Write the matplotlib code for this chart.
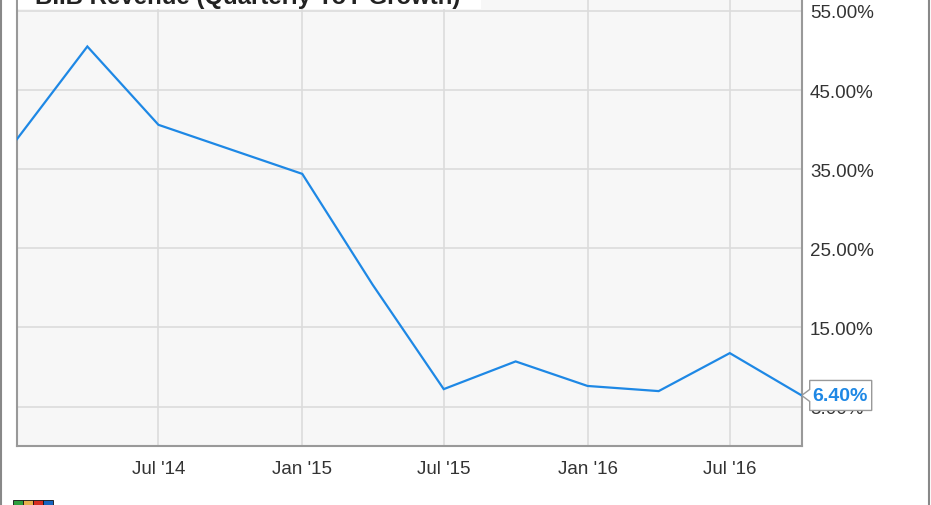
import matplotlib
matplotlib.use("Agg")
import matplotlib.pyplot as plt
import matplotlib.dates as mdates
from matplotlib.patches import Polygon, Rectangle
from matplotlib.lines import Line2D
import datetime as dt

plt.rcParams['font.family'] = ['Liberation Sans', 'DejaVu Sans']

# ---- data ----
dates = ["2014-01-01", "2014-04-01", "2014-07-01", "2014-10-01", "2015-01-01",
         "2015-04-01", "2015-07-01", "2015-10-01", "2016-01-01", "2016-04-01",
         "2016-07-01", "2016-10-01"]
growth = [38.8, 50.5, 40.6, 37.5, 34.4, 20.4, 7.2, 10.7, 7.6, 6.95, 11.75, 6.40]
yticks = [5, 15, 25, 35, 45, 55]
xtick_dates = ["2014-07-01", "2015-01-01", "2015-07-01", "2016-01-01", "2016-07-01"]
title = "BIIB Revenue (Quarterly YoY Growth)"
last_label = "6.40%"

W, H = 931, 506
fig = plt.figure(figsize=(W / 100, H / 100), dpi=100)
fig.patch.set_facecolor('white')

x0, x1 = 17, 801.7
ybot, ytop = 446.7, 0
ax = fig.add_axes([x0 / W, (H - ybot) / H, (x1 - x0) / W, (ybot - ytop) / H])
ax.set_facecolor('#f7f7f7')

xd = [dt.datetime.strptime(d, "%Y-%m-%d") for d in dates]
ax.plot(xd, growth, color='#1e88e5', lw=1.6, solid_joinstyle='miter', zorder=3)

ax.set_xlim(xd[0], xd[-1])
ax.set_ylim(0.05, 56.5)

xt = [dt.datetime.strptime(d, "%Y-%m-%d") for d in xtick_dates]
ax.set_xticks(xt)
ax.set_xticklabels([d.strftime("%b '%y") for d in xt])
ax.set_yticks(yticks)
ax.set_yticklabels([f"{v:.2f}%" for v in yticks])
ax.yaxis.tick_right()
ax.tick_params(axis='both', length=0, labelsize=13.5, colors='#333333')
ax.tick_params(axis='x', pad=10)
ax.tick_params(axis='y', pad=6)
for lab in ax.get_yticklabels():
    lab.set_horizontalalignment('left')

ax.grid(True, color='#dcdcdc', lw=1.2)
ax.set_axisbelow(True)
for s in ['left', 'bottom', 'right']:
    ax.spines[s].set_color('#999999')
    ax.spines[s].set_linewidth(1.5)
ax.spines['top'].set_visible(False)

# title box (cut off at the top)
fig.add_artist(Rectangle((x0 / W + 0.001, 1 - 10 / H), (480 - x0) / W, 10 / H,
                         transform=fig.transFigure, facecolor='white',
                         edgecolor='none', zorder=2))
fig.text(35 / W, 1 - 4.0 / H, title, fontsize=17.3, fontweight='bold',
         color='#222222', ha='left', va='baseline', zorder=3)

# value label for last point
fig.canvas.draw()
px, py = ax.transData.transform((mdates.date2num(xd[-1]), growth[-1]))
bx0, bx1 = px + 8, px + 70
bh = 30
poly = [(bx0, py + bh / 2), (bx1, py + bh / 2), (bx1, py - bh / 2), (bx0, py - bh / 2),
        (bx0, py - 6), (px, py), (bx0, py + 6)]
polyf = [(a / W, b / H) for a, b in poly]
fig.add_artist(Polygon(polyf, closed=True, transform=fig.transFigure,
                       facecolor='white', edgecolor='#999999', lw=1.0, zorder=5))
fig.text((bx0 + 3) / W, py / H, last_label, fontsize=14, fontweight='bold',
         color='#1e88e5', ha='left', va='center', zorder=6)

# outer frame lines
fig.add_artist(Line2D([1 / W, 1 / W], [0, 1], transform=fig.transFigure,
                      color='#888888', lw=1.5))
fig.add_artist(Line2D([929 / W, 929 / W], [0, 1], transform=fig.transFigure,
                      color='#888888', lw=1.5))

# small logo at bottom-left (cut off)
lx = 13
for i, c in enumerate(['#2e9e3e', '#e8b04a', '#d62d20', '#1565c0']):
    fig.add_artist(Rectangle(((lx + i * 10) / W, 0), 10 / W, 5 / H,
                             transform=fig.transFigure, facecolor=c,
                             edgecolor='#111111', lw=0.6))

fig.savefig("out.png", dpi=100)
